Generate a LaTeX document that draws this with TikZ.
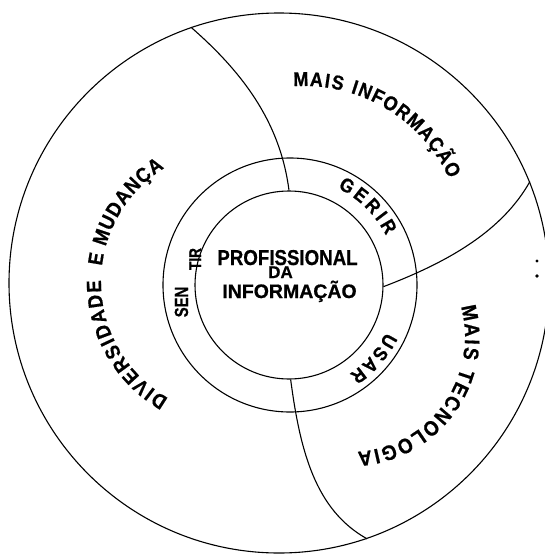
\documentclass[tikz,border=0pt]{standalone}
\usepackage{fontspec}
\usepackage{graphicx}
\setmainfont[FakeBold=0.7]{Liberation Sans}
\newcommand\fP{\bfseries\fontsize{21.5}{21.5}\selectfont}
\newcommand\fD{\bfseries\fontsize{17}{17}\selectfont}
\newcommand\fI{\bfseries\fontsize{19.5}{19.5}\selectfont}
\newcommand\fSen{\bfseries\fontsize{19}{19}\selectfont}
\newcommand\fTir{\bfseries\fontsize{17}{17}\selectfont}
\newcommand\arcch[2]{{\bfseries\fontsize{#1}{#1}\selectfont\scalebox{0.9}[1]{#2}}}
\begin{document}
\begin{tikzpicture}[x=1pt,y=-1pt,line width=1.1pt,
  ring/.style={draw,circle,inner sep=0pt},
  divider/.style={line width=1.1pt},
  arcletter/.style={anchor=base,inner sep=0pt,rotate={-(#1)-90}}]
\useasboundingbox (0,0) rectangle (545,554);
% circles
\node[ring,minimum size=540pt] (outer) at (279,283) {};
\node[ring,minimum size=254pt] (middle) at (290,285) {};
\node[ring,minimum size=188pt] (inner) at (289,285) {};
% dividing lines
\draw[divider] (outer.109.3) .. controls (240,70) and (280,120) .. (inner.90);
\draw[divider] (outer.22.5) .. controls (500,235) and (440,265) .. (inner.-1.2);
\draw[divider] (inner.-89.5) .. controls (300,450) and (315,510) .. (outer.-71.6);
% MAIS INFORMACAO
\foreach \ch/\a [count=\i] in {M/-91.07,A/-85.67,I/-81.89,S/-78.27,I/-72.16,N/-68.38,F/-63.63,O/-58.71,R/-53.47,M/-48.07,A/-42.67,Ç/-37.60,Ã/-32.52,O/-27.28}
  \node[arcletter=\a] (mi\i) at ({304+160*cos(\a)},{246+160*sin(\a)}) {\arcch{20}{\ch}};
% DIVERSIDADE E MUDANCA
\foreach \ch/\a [count=\i] in {D/122.65,I/127.37,V/131.88,E/137.83,R/143.97,S/150.12,I/154.64,D/159.35,A/165.70,D/172.05,E/178.19,E/189.5,M/198.56,U/205.03,D/211.10,A/217.16,N/223.23,Ç/229.30,A/235.37}
  \node[arcletter=\a] (dm\i) at ({235+134*cos(\a)},{282+134*sin(\a)}) {\arcch{20.5}{\ch}};
% MAIS TECNOLOGIA
\foreach \ch/\a [count=\i] in {M/-11.44,A/-3.35,I/2.37,S/7.86,T/18.60,E/25.50,C/32.89,N/40.51,O/48.37,L/55.75,O/63.14,G/71.23,I/77.19,A/82.92}
  \node[arcletter=\a] (mt\i) at ({350+115*cos(\a)},{337+115*sin(\a)}) {\arcch{21}{\ch}};
% GERIR
\foreach \ch/\a [count=\i] in {G/-60.14,E/-51.73,R/-43.57,I/-37.09,R/-30.60}
  \node[arcletter=\a] (ge\i) at ({290+108*cos(\a)},{285+108*sin(\a)}) {\arcch{19.5}{\ch}};
% USAR
\foreach \ch/\a [count=\i] in {U/29.65,S/37.30,A/44.96,R/52.85}
  \node[arcletter=\a] (us\i) at ({290+107*cos(\a)},{285+107*sin(\a)}) {\arcch{19.5}{\ch}};
% SENTIR
\node[rotate=90,anchor=base,font=\fSen,inner sep=0pt] (sen) at (188,302) {\scalebox{0.78}[1]{SEN}};
\node[rotate=90,anchor=base,font=\fTir,inner sep=0pt] (tir) at (201,259) {\scalebox{0.8}[1]{TIR}};
% centre
\node[anchor=base,font=\fP,inner sep=0pt] (prof) at (287.5,265) {\scalebox{0.87}[1]{PROFISSIONAL}};
\node[anchor=base,font=\fD,inner sep=0pt] (da) at (280.5,278) {DA};
\node[anchor=base,font=\fI,inner sep=0pt] (info) at (289.5,298) {INFORMAÇÃO};
% marks at right edge
\fill (537,261) circle[radius=1.7];
\fill (537,276) circle[radius=1.8];
\end{tikzpicture}
\end{document}
